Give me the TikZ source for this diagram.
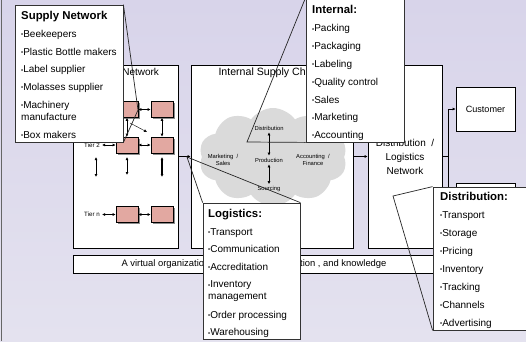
\documentclass[tikz,border=0pt]{standalone}
\usepackage{fontspec}
\setmainfont{Liberation Sans}
\usetikzlibrary{arrows.meta,shapes.symbols,shadows}

\definecolor{bgtop}{RGB}{216,212,234}
\definecolor{bgbot}{RGB}{228,226,239}
\definecolor{tierpink}{RGB}{226,168,161}
\definecolor{cloudgray}{RGB}{218,218,218}

\newcommand\bul{\raisebox{0.8pt}{\fontsize{6}{6}\selectfont•}}
\newcommand\heading[1]{{\fontsize{11.4}{12}\selectfont\bfseries #1}}

\tikzset{
  frame/.style={draw, fill=white, line width=0.6pt},
  tierbox/.style={draw, fill=tierpink, minimum width=22, minimum height=16, line width=0.6pt,
    drop shadow={shadow xshift=1.5pt, shadow yshift=-1.5pt, fill=black!45, opacity=1}},
  link/.style={{Latex[length=3pt,width=3pt]}-{Latex[length=3pt,width=3pt]}, line width=0.6pt},
  flow/.style={-{Latex[length=3pt,width=3pt]}, line width=0.6pt},
  boxlabel/.style={font=\fontsize{10}{14}\selectfont},
  smalltxt/.style={font=\fontsize{6.2}{7}\selectfont, inner sep=2pt},
  cloudtxt/.style={font=\fontsize{5.8}{6.6}\selectfont, inner sep=2pt},
  callout/.style={draw=black!80, fill=white, line width=0.8pt},
  pointer/.style={draw=black!85, line width=0.7pt},
  calltext/.style={anchor=north west, inner sep=0, align=left, font=\fontsize{10}{12}\selectfont},
}

\begin{document}
\begin{tikzpicture}[x=1pt,y=-1pt]
	\useasboundingbox (0,0) rectangle (526,341);
	\fill[top color=bgtop, bottom color=bgbot] (0,0) rectangle (526,341);
	\draw[black!60, line width=1pt] (1,0) -- (1,341);

	% frames
	\node[frame, minimum width=105, minimum height=183] (supply) at (125.5,156.5) {};
	\node[frame, minimum width=162, minimum height=183] (internal) at (272,156.5) {};
	\node[frame, minimum width=74, minimum height=183] (distr) at (405,156.5) {};
	\node[frame, minimum width=59, minimum height=44] (customer) at (485.5,109) {};
	\node[frame, minimum width=59, minimum height=64] (outlet) at (485.5,215) {};
	\node[frame, minimum width=369, minimum height=18] (bar) at (257.5,264) {};

	\node[boxlabel] (supplyname) at (124,72.5) {Supply Network};
	\node[boxlabel, anchor=west, font=\fontsize{10.6}{14}\selectfont] (internalname) at (215,72.5) {Internal Supply Chain};
	\node[boxlabel, align=center] (distrname) at (405,157) {Distribution~~/\\Logistics\\Network};
	\node[boxlabel, font=\fontsize{9.1}{14}\selectfont] (customername) at (485.5,109) {Customer};
	\node[boxlabel, anchor=west, font=\fontsize{9.4}{14}\selectfont] (bartext) at (118,264) {A virtual organization sharing data, information , and knowledge};

	% tiers
	\node[tierbox] (t1a) at (127,109.5) {};
	\node[tierbox] (t1b) at (162,109.5) {};
	\node[tierbox] (t2a) at (127,145) {};
	\node[tierbox] (t2b) at (162,145) {};
	\node[tierbox] (tna) at (127,214.5) {};
	\node[tierbox] (tnb) at (162,214.5) {};
	\node[smalltxt] (tier2) at (92,145) {Tier 2};
	\node[smalltxt] (tiern) at (92,214.5) {Tier n};

	\draw[link] (t1a) -- (t1b);
	\draw[link] (t2a) -- (t2b);
	\draw[link] (tna) -- (tnb);
	\draw[link] (tier2) -- (t2a);
	\draw[link] (tiern) -- (tna);
	\draw[link] (t1a) -- (t2a);
	\draw[link] (t1b) -- (t2b);

	\coordinate (gap1) at (96,157);  \coordinate (gap1e) at (96,177);
	\coordinate (gap2) at (127,157); \coordinate (gap2e) at (127,175);
	\coordinate (gap3) at (162,157); \coordinate (gap3e) at (162,177);
	\draw[link] (gap1) -- (gap1e);
	\draw[link] (gap2) -- (gap2e);
	\draw[link, line width=1.1pt] (gap3) -- (gap3e);
	\coordinate (diag) at (130,123); \coordinate (diage) at (147,132);
	\draw[flow, line width=0.4pt] (diag) -- (diage);

	% cloud
	\node[cloud, cloud puffs=10, cloud puff arc=110, aspect=1.5, fill=cloudgray, minimum width=148, minimum height=98, inner sep=0] (cloud) at (273,157) {};
	\node[cloudtxt] (distribution) at (269,128) {Distribution};
	\node[cloudtxt, align=center] (marketing) at (223,160) {Marketing~~/\\Sales};
	\node[cloudtxt] (production) at (269,160) {Production};
	\node[cloudtxt, align=center] (accounting) at (313,160) {Accounting~~/\\Finance};
	\node[cloudtxt] (sourcing) at (269,189) {Sourcing};
	\draw[link] (distribution) -- (production);
	\draw[link] (production) -- (sourcing);

	% connectors
	\draw[flow] (supply) -- (internal);
	\draw[flow] (internal) -- (distr);
	\coordinate (fork) at (448,156.5);
	\draw[line width=0.6pt] (distr) -- (fork);
	\draw[flow] (fork) |- (customer);
	\draw[flow] (fork) |- (outlet);

	% callouts
	\node[callout, minimum width=108, minimum height=137] (supbox) at (69,73.5) {};
	\coordinate (suptip) at (138,110);
	\draw[pointer] (supbox.north east) -- (suptip) -- (supbox.south east);
	\node[calltext] (suptext) at (21,11) {\heading{Supply Network}\\[5.8pt]
		\bul Beekeepers\\[5.8pt] \bul Plastic Bottle makers\\[5.8pt] \bul Label supplier\\[5.8pt]
		\bul Molasses supplier\\[5.8pt] \bul Machinery\\ manufacture\\[5.8pt] \bul Box makers};

	\node[callout, minimum width=98, minimum height=144] (intbox) at (355,70) {};
	\coordinate (inttip) at (247,142);
	\draw[pointer] (intbox.north west) -- (inttip) -- (intbox.south west);
	\node[calltext] (inttext) at (312,5) {\heading{Internal:}\\[6.4pt]
		\bul Packing\\[5.8pt] \bul Packaging\\[5.8pt] \bul Labeling\\[5.8pt] \bul Quality control\\[5.8pt]
		\bul Sales\\[5.8pt] \bul Marketing\\[5.8pt] \bul Accounting};

	\node[callout, minimum width=97, minimum height=136] (logbox) at (251.5,271) {};
	\coordinate (logtip) at (187,157);
	\draw[pointer] (logbox.north west) -- (logtip) -- (logbox.north east);
	\node[calltext] (logtext) at (208,209) {\heading{Logistics:}\\[5.6pt]
		\bul Transport\\[5.6pt] \bul Communication\\[5.6pt] \bul Accreditation\\[5.6pt]
		\bul Inventory\\ management\\[6.5pt] \bul Order processing\\[5.6pt] \bul Warehousing};

	\node[callout, minimum width=97, minimum height=143] (disbox) at (481.5,258.5) {};
	\coordinate (distip) at (393,196);
	\draw[pointer] (disbox.north west) -- (distip) -- (disbox.south west);
	\node[calltext] (distext) at (440,191.7) {\heading{Distribution:}\\[6.3pt]
		\bul Transport\\[6pt] \bul Storage\\[6pt] \bul Pricing\\[6pt] \bul Inventory\\[6pt]
		\bul Tracking\\[6pt] \bul Channels\\[6pt] \bul Advertising};
\end{tikzpicture}
\end{document}
